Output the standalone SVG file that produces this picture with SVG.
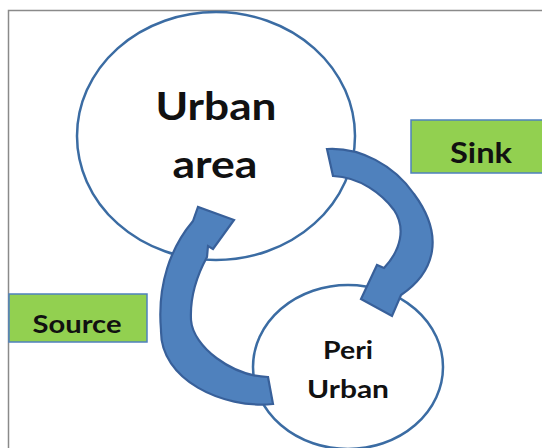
<svg xmlns="http://www.w3.org/2000/svg" width="542" height="448" viewBox="0 0 542 448">
  <style>
    .node { fill: #ffffff; stroke: #3b6ca3; stroke-width: 2.5; }
    .box { fill: #92d050; stroke: #4f81bd; stroke-width: 1.5; }
    .arrow { fill: #4f81bd; stroke: #38609a; stroke-width: 2.2; stroke-linejoin: miter; }
    .lbl { font-family: Lato, "Liberation Sans", sans-serif; font-weight: bold; fill: #111111; text-anchor: middle; }
  </style>
  <rect x="0" y="0" width="542" height="448" fill="#ffffff"/>
  <rect id="frame" x="8.5" y="10.5" width="600" height="500" fill="none" stroke="#8a8a8a" stroke-width="1.5"/>

  <g id="urban-area">
    <ellipse class="node" cx="216" cy="136" rx="139" ry="124"/>
    <text class="lbl" x="216" y="120" font-size="39" textLength="121" lengthAdjust="spacingAndGlyphs">Urban</text>
    <text class="lbl" x="215" y="178" font-size="39" textLength="85" lengthAdjust="spacingAndGlyphs">area</text>
  </g>

  <g id="peri-urban">
    <ellipse class="node" cx="348" cy="367" rx="95" ry="82"/>
    <text class="lbl" x="348" y="359" font-size="25" textLength="50" lengthAdjust="spacingAndGlyphs">Peri</text>
    <text class="lbl" x="348" y="398" font-size="25" textLength="82" lengthAdjust="spacingAndGlyphs">Urban</text>
  </g>

  <g id="sink">
    <rect class="box" x="411" y="120" width="140" height="53"/>
    <text class="lbl" x="481" y="163" font-size="29" textLength="62" lengthAdjust="spacingAndGlyphs">Sink</text>
  </g>

  <g id="source">
    <rect class="box" x="9" y="294" width="138" height="48"/>
    <text class="lbl" x="77" y="333" font-size="24" textLength="89" lengthAdjust="spacingAndGlyphs">Source</text>
  </g>

  <g id="connectors">
    <path id="arrow-sink" class="arrow" d="M327,149 C360,147 394,165 414,194 C445,236 435,272 401,295 L392,316 L361,299 L377,265 L384,268 C401,250 406,228 394,210 C382,194 360,177 333,176 Z"/>
    <path id="arrow-source" class="arrow" d="M268,377 L273,404 C223,409 160,380 161,330 C157,284 171,247 193,221 L198,207 L234,220 L213,249 L208,246 L207,257 C195,279 190,300 191,320 C193,347 232,376 268,377 Z"/>
  </g>
</svg>
